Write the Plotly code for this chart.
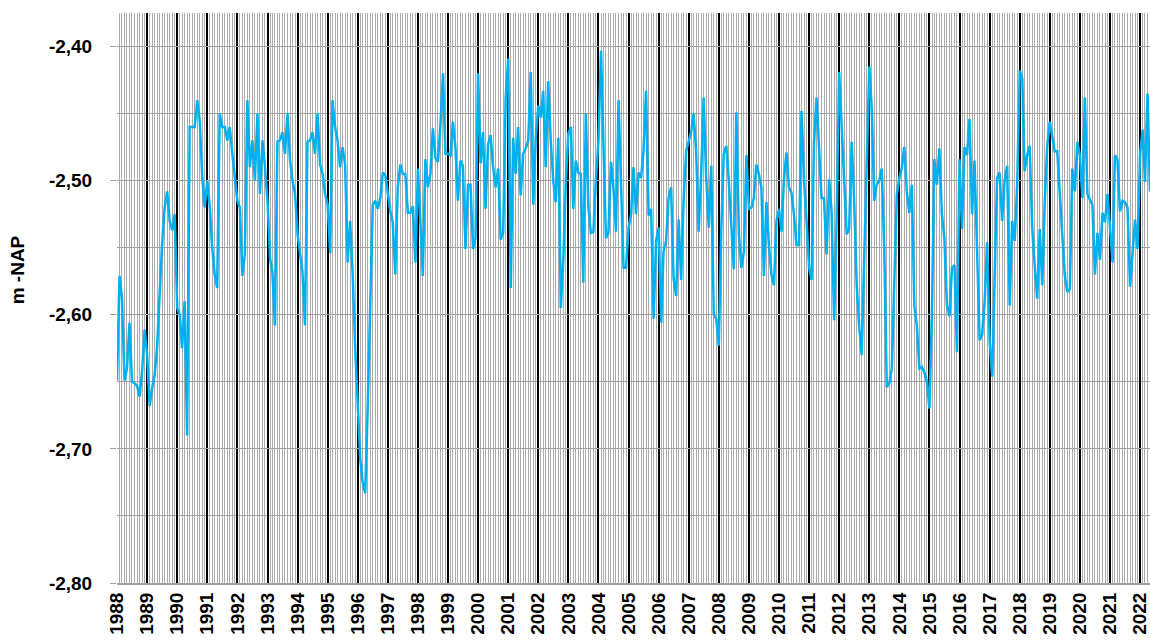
"""
Groundwater level (m -NAP), monthly readings 1988 - 2022.
"""

import pandas as pd
import plotly.graph_objects as go

# ---------------------------------------------------------------------------
# Data: one list per year, monthly readings in m -NAP
# ---------------------------------------------------------------------------

lvl_1988 = [-2.649, -2.571, -2.587, -2.649, -2.640, -2.606, -2.650, -2.651, -2.653, -2.661, -2.642, -2.611]
lvl_1989 = [-2.630, -2.668, -2.655, -2.645, -2.625, -2.580, -2.548, -2.520, -2.508, -2.530, -2.537, -2.525]
lvl_1990 = [-2.595, -2.600, -2.625, -2.590, -2.690, -2.460, -2.460, -2.460, -2.440, -2.455, -2.498, -2.520]
lvl_1991 = [-2.500, -2.520, -2.550, -2.570, -2.580, -2.450, -2.460, -2.460, -2.470, -2.460, -2.480, -2.500]
lvl_1992 = [-2.515, -2.520, -2.571, -2.555, -2.440, -2.490, -2.470, -2.500, -2.450, -2.510, -2.470, -2.490]
lvl_1993 = [-2.515, -2.558, -2.568, -2.608, -2.471, -2.470, -2.464, -2.480, -2.450, -2.485, -2.500, -2.510]
lvl_1994 = [-2.540, -2.555, -2.568, -2.608, -2.471, -2.470, -2.464, -2.480, -2.450, -2.488, -2.495, -2.510]
lvl_1995 = [-2.518, -2.554, -2.440, -2.460, -2.470, -2.490, -2.475, -2.488, -2.561, -2.530, -2.570, -2.625]
lvl_1996 = [-2.670, -2.708, -2.725, -2.733, -2.670, -2.583, -2.518, -2.515, -2.521, -2.513, -2.494, -2.496]
lvl_1997 = [-2.510, -2.523, -2.531, -2.570, -2.505, -2.488, -2.495, -2.495, -2.524, -2.524, -2.519, -2.561]
lvl_1998 = [-2.491, -2.538, -2.571, -2.484, -2.505, -2.495, -2.461, -2.483, -2.486, -2.458, -2.420, -2.480]
lvl_1999 = [-2.480, -2.481, -2.456, -2.475, -2.515, -2.485, -2.489, -2.551, -2.503, -2.503, -2.551, -2.543]
lvl_2000 = [-2.420, -2.487, -2.464, -2.521, -2.473, -2.466, -2.490, -2.505, -2.491, -2.544, -2.539, -2.438]
lvl_2001 = [-2.409, -2.580, -2.468, -2.495, -2.460, -2.511, -2.480, -2.476, -2.470, -2.419, -2.518, -2.468]
lvl_2002 = [-2.444, -2.453, -2.433, -2.490, -2.426, -2.470, -2.500, -2.516, -2.468, -2.595, -2.558, -2.500]
lvl_2003 = [-2.465, -2.460, -2.521, -2.485, -2.494, -2.495, -2.576, -2.450, -2.520, -2.539, -2.538, -2.499]
lvl_2004 = [-2.470, -2.403, -2.475, -2.543, -2.539, -2.486, -2.505, -2.538, -2.440, -2.500, -2.565, -2.565]
lvl_2005 = [-2.535, -2.525, -2.490, -2.525, -2.494, -2.498, -2.478, -2.433, -2.526, -2.521, -2.603, -2.545]
lvl_2006 = [-2.535, -2.606, -2.553, -2.545, -2.513, -2.505, -2.573, -2.586, -2.529, -2.574, -2.513, -2.478]
lvl_2007 = [-2.470, -2.463, -2.450, -2.478, -2.538, -2.495, -2.438, -2.498, -2.535, -2.489, -2.600, -2.603]
lvl_2008 = [-2.623, -2.535, -2.480, -2.474, -2.500, -2.530, -2.566, -2.449, -2.540, -2.565, -2.553, -2.481]
lvl_2009 = [-2.521, -2.520, -2.513, -2.488, -2.495, -2.505, -2.571, -2.516, -2.549, -2.570, -2.578, -2.530]
lvl_2010 = [-2.521, -2.538, -2.500, -2.479, -2.505, -2.509, -2.525, -2.548, -2.548, -2.448, -2.500, -2.530]
lvl_2011 = [-2.565, -2.574, -2.473, -2.438, -2.478, -2.513, -2.513, -2.555, -2.499, -2.523, -2.604, -2.530]
lvl_2012 = [-2.419, -2.460, -2.505, -2.540, -2.536, -2.471, -2.515, -2.578, -2.610, -2.630, -2.555, -2.478]
lvl_2013 = [-2.415, -2.448, -2.515, -2.503, -2.500, -2.491, -2.550, -2.654, -2.651, -2.640, -2.570, -2.510]
lvl_2014 = [-2.498, -2.490, -2.475, -2.508, -2.524, -2.503, -2.593, -2.608, -2.640, -2.639, -2.643, -2.650]
lvl_2015 = [-2.670, -2.595, -2.484, -2.503, -2.476, -2.525, -2.543, -2.593, -2.601, -2.565, -2.563, -2.628]
lvl_2016 = [-2.484, -2.536, -2.475, -2.481, -2.454, -2.525, -2.485, -2.549, -2.619, -2.615, -2.590, -2.546]
lvl_2017 = [-2.620, -2.646, -2.570, -2.498, -2.494, -2.530, -2.500, -2.489, -2.593, -2.530, -2.545, -2.503]
lvl_2018 = [-2.418, -2.424, -2.493, -2.481, -2.474, -2.535, -2.563, -2.588, -2.536, -2.578, -2.515, -2.474]
lvl_2019 = [-2.456, -2.468, -2.478, -2.478, -2.513, -2.540, -2.570, -2.583, -2.581, -2.491, -2.508, -2.471]
lvl_2020 = [-2.481, -2.513, -2.438, -2.510, -2.514, -2.518, -2.570, -2.539, -2.559, -2.524, -2.531, -2.510]
lvl_2021 = [-2.535, -2.561, -2.481, -2.484, -2.523, -2.515, -2.516, -2.520, -2.579, -2.553, -2.529, -2.551]
lvl_2022 = [-2.480, -2.462, -2.501, -2.435, -2.508]

YEARLY = [
    lvl_1988, lvl_1989, lvl_1990, lvl_1991, lvl_1992, lvl_1993, lvl_1994,
    lvl_1995, lvl_1996, lvl_1997, lvl_1998, lvl_1999, lvl_2000, lvl_2001,
    lvl_2002, lvl_2003, lvl_2004, lvl_2005, lvl_2006, lvl_2007, lvl_2008,
    lvl_2009, lvl_2010, lvl_2011, lvl_2012, lvl_2013, lvl_2014, lvl_2015,
    lvl_2016, lvl_2017, lvl_2018, lvl_2019, lvl_2020, lvl_2021, lvl_2022,
]

START = "1988-01-01"
Y_TICKS = [-2.80, -2.70, -2.60, -2.50, -2.40]
Y_TICK_TEXT = ["-2,80", "-2,70", "-2,60", "-2,50", "-2,40"]
Y_TITLE = "m -NAP"

# ---------------------------------------------------------------------------
# Styling
# ---------------------------------------------------------------------------

_FONT = "Liberation Sans, Arial, sans-serif"
_LINE = "#00B0F0"
_GRID = "#A0A0A0"
_MINOR = "#ABABAB"
_YEAR = "#000000"

levels = [v for year in YEARLY for v in year]
dates = pd.date_range(START, periods=len(levels), freq="MS")

fig = go.Figure()
fig.add_trace(go.Scatter(
    x=dates,
    y=levels,
    mode="lines",
    line=dict(color=_LINE, width=2.5),
    showlegend=False,
))

# Axis title sits a little above the middle of the plot, as in the source chart
fig.add_annotation(
    text=f"<b>{Y_TITLE}</b>",
    xref="paper", yref="paper",
    x=-0.096, y=0.55,
    xanchor="center", yanchor="middle",
    textangle=-90,
    showarrow=False,
    font=dict(size=19, family=_FONT, color="black"),
)

fig.update_layout(
    width=1150,
    height=643,
    paper_bgcolor="white",
    plot_bgcolor="white",
    font=dict(family=_FONT, color="black", size=19),
    margin=dict(l=117, r=0, t=13, b=60),
    xaxis=dict(
        type="date",
        range=[dates[0], dates[-1]],
        dtick="M12",
        tick0=START,
        tickformat="%Y",
        tickangle=-90,
        tickfont=dict(size=19, family=_FONT, weight="bold"),
        ticklabeloverflow="allow",
        showgrid=True,
        gridcolor=_YEAR,
        gridwidth=1.5,
        ticks="",
        showline=True,
        linecolor=_GRID,
        linewidth=2,
        minor=dict(dtick="M1", showgrid=True, gridcolor=_MINOR, gridwidth=1),
        zeroline=False,
    ),
    yaxis=dict(
        range=[-2.80, -2.375],
        tickmode="array",
        tickvals=Y_TICKS,
        ticktext=Y_TICK_TEXT,
        tickfont=dict(size=19, family=_FONT, weight="bold"),
        ticks="outside",
        ticklen=6,
        tickcolor=_GRID,
        ticklabelstandoff=14,
        showgrid=True,
        gridcolor=_GRID,
        gridwidth=1,
        minor=dict(dtick=0.05, tick0=-2.80, showgrid=True, gridcolor=_GRID, gridwidth=1),
        showline=False,
        zeroline=False,
    ),
)

fig.write_html(
    "out.html",
    config={"displayModeBar": False},
    post_script="document.body.style.margin='0';",
)
